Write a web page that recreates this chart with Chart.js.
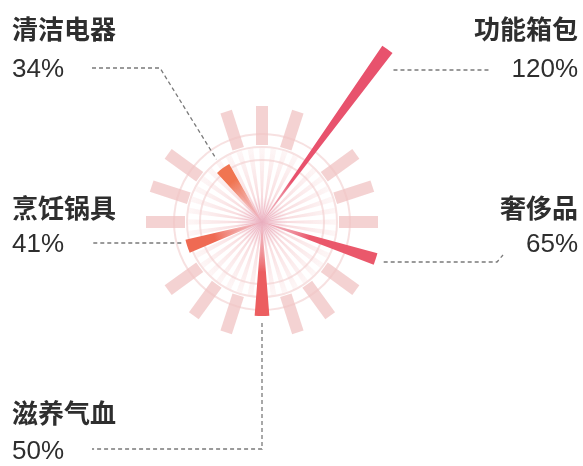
<!DOCTYPE html>
<html>
<head>
<meta charset="utf-8">
<script src="https://cdn.jsdelivr.net/npm/chart.js@4.4.0/dist/chart.umd.min.js"></script>
<style>
  html, body { margin: 0; padding: 0; background: #fff; }
  #wrap { width: 583px; height: 466px; }
</style>
</head>
<body>
<div id="wrap"><canvas id="chart" width="583" height="466"></canvas></div>
<script>
// categories clockwise from the top-right spoke (36deg, then every 72deg)
const categories = ['功能箱包', '奢侈品', '滋养气血', '烹饪锅具', '清洁电器']
const shares = [120, 65, 50, 41, 34]
const colors = ['#e8526d', '#ea586b', '#ec5e60', '#ef6a53', '#f07551']
const wedgeWidths = [3.4, 5.8, 9, 10, 13] // degrees, purely visual

// where each label sits on the page
const labelSpots = [
  { x: 578, align: 'right', nameY: 29, pctY: 70 },
  { x: 578, align: 'right', nameY: 208, pctY: 245 },
  { x: 12, align: 'left', nameY: 413, pctY: 452 },
  { x: 12, align: 'left', nameY: 208, pctY: 245 },
  { x: 12, align: 'left', nameY: 29, pctY: 70 },
]

const TEXT = '#2e2e2e'
const DEG = Math.PI / 180

function tipAt(chart, i, extra) {
  const arc = chart.getDatasetMeta(0).data[i]
  const mid = (arc.startAngle + arc.endAngle) / 2
  const r = arc.outerRadius + extra
  return { x: arc.x + Math.cos(mid) * r, y: arc.y + Math.sin(mid) * r }
}

function leaderPath(chart, i) {
  const t = tipAt(chart, i, 0)
  switch (i) {
    case 0: return [[t.x + 6, 70], [490, 70]]
    case 1: return [[t.x + 8, 262], [497, 262], [503, 255]]
    case 2: return [[t.x, t.y + 7], [t.x, 449], [92, 449]]
    case 3: return [[t.x - 6, 243], [92, 243]]
    default: {
      const e = tipAt(chart, i, 11)
      return [[92, 68], [160, 68], [e.x, e.y]]
    }
  }
}

// narrow every arc round the middle of its 72deg slot
const thinWedges = {
  id: 'thinWedges',
  afterDatasetsUpdate(chart) {
    chart.getDatasetMeta(0).data.forEach((arc, i) => {
      const mid = (arc.startAngle + arc.endAngle) / 2
      const half = wedgeWidths[i] * DEG / 2
      arc.startAngle = mid - half
      arc.endAngle = mid + half
    })
  },
}

// faint starburst, rings and spokes behind the wedges
const backdrop = {
  id: 'backdrop',
  beforeDatasetsDraw(chart) {
    const { ctx } = chart
    const s = chart.scales.r
    const cx = s.xCenter, cy = s.yCenter
    ctx.save()
    ctx.translate(cx, cy)

    const g = ctx.createRadialGradient(0, 0, 0, 0, 0, 76)
    g.addColorStop(0, 'rgba(226,135,158,0.6)')
    g.addColorStop(0.4, 'rgba(238,165,170,0.35)')
    g.addColorStop(1, 'rgba(245,200,200,0.15)')
    ctx.fillStyle = g
    for (let k = 0; k < 40; k++) {
      const a = k * 9 * DEG - Math.PI / 2
      const d = 2.2 * DEG
      ctx.beginPath()
      ctx.moveTo(0, 0)
      ctx.lineTo(Math.cos(a - d) * 74, Math.sin(a - d) * 74)
      ctx.lineTo(Math.cos(a + d) * 74, Math.sin(a + d) * 74)
      ctx.closePath()
      ctx.fill()
    }
    const glow = ctx.createRadialGradient(0, 0, 0, 0, 0, 26)
    glow.addColorStop(0, 'rgba(226,150,172,0.7)')
    glow.addColorStop(1, 'rgba(240,190,200,0)')
    ctx.fillStyle = glow
    ctx.beginPath()
    ctx.arc(0, 0, 26, 0, Math.PI * 2)
    ctx.fill()

    ctx.strokeStyle = 'rgba(242,205,205,0.6)'
    ctx.lineWidth = 2
    ;[62, 75, 88].forEach(r => {
      ctx.beginPath()
      ctx.arc(0, 0, r, 0, Math.PI * 2)
      ctx.stroke()
    })

    ctx.fillStyle = 'rgba(240,195,195,0.75)'
    for (let k = 0; k < 20; k++) {
      if ((k * 18 - 36) % 72 === 0) continue // slot used by a wedge
      ctx.save()
      ctx.rotate(k * 18 * DEG - Math.PI / 2)
      ctx.fillRect(77, -6, 39, 12)
      ctx.restore()
    }
    ctx.restore()
  },
}

const labels = {
  id: 'labels',
  afterDraw(chart) {
    const { ctx } = chart
    ctx.save()
    ctx.strokeStyle = '#7a7a7a'
    ctx.lineWidth = 1.3
    ctx.setLineDash([4, 3])
    categories.forEach((_, i) => {
      const pts = leaderPath(chart, i)
      ctx.beginPath()
      pts.forEach(([x, y], j) => (j ? ctx.lineTo(x, y) : ctx.moveTo(x, y)))
      ctx.stroke()
    })
    ctx.setLineDash([])
    ctx.fillStyle = TEXT
    ctx.textBaseline = 'middle'
    categories.forEach((name, i) => {
      const spot = labelSpots[i]
      ctx.textAlign = spot.align
      ctx.font = 'bold 26px "Noto Sans CJK SC"'
      ctx.fillText(name, spot.x, spot.nameY)
      ctx.font = '26px "Liberation Sans"'
      ctx.fillText(shares[i] + '%', spot.x, spot.pctY)
    })
    ctx.restore()
  },
}

new Chart(document.getElementById('chart'), {
  type: 'polarArea',
  data: {
    labels: categories,
    datasets: [{
      data: shares,
      borderWidth: 0,
      backgroundColor: (c) => {
        const col = colors[c.dataIndex]
        const s = c.chart.scales.r
        if (!s || c.dataIndex === undefined || !Number.isFinite(s.xCenter) || !Number.isFinite(s.yCenter)) return col
        const g = c.chart.ctx.createRadialGradient(s.xCenter, s.yCenter, 0, s.xCenter, s.yCenter, 50)
        g.addColorStop(0, 'rgba(236,160,175,0.35)')
        g.addColorStop(1, col)
        return g
      },
    }],
  },
  options: {
    responsive: false,
    animation: false,
    events: [],
    layout: { padding: { left: 0, top: 0, right: 59, bottom: 22 } },
    plugins: {
      legend: { display: false },
      tooltip: { enabled: false },
    },
    scales: {
      r: {
        display: false,
        min: -5,
        max: 125,
        startAngle: 0,
      },
    },
  },
  plugins: [thinWedges, backdrop, labels],
})
</script>
</body>
</html>
